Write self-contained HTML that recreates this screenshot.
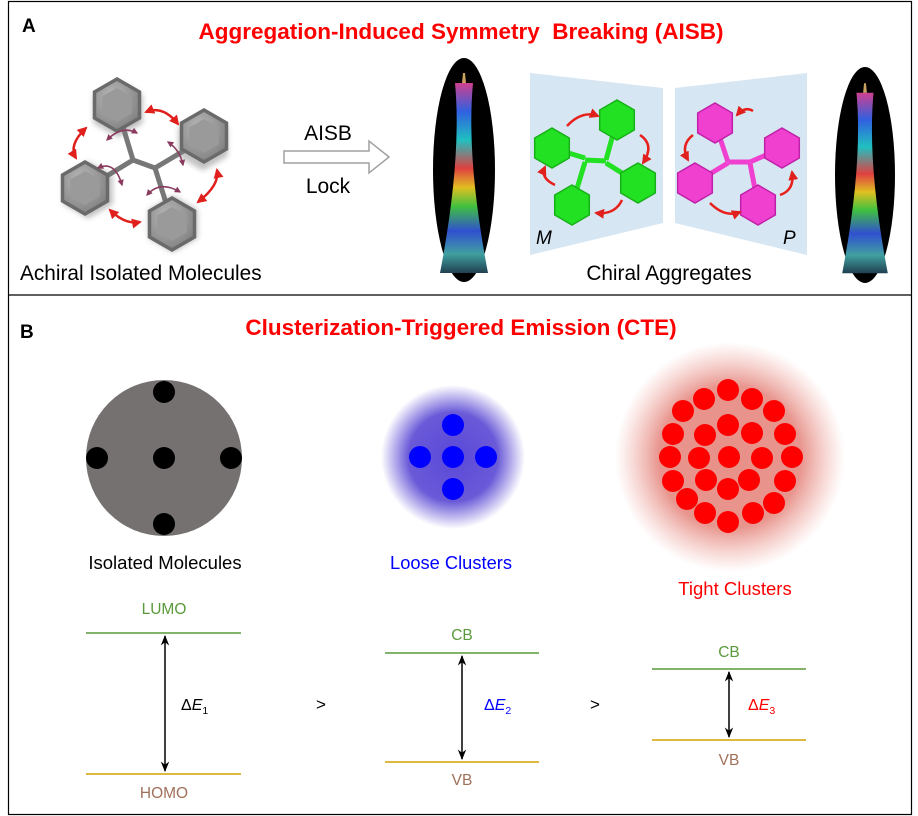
<!DOCTYPE html>
<html><head><meta charset="utf-8"><style>
html,body{margin:0;padding:0;background:#fff;}
svg{display:block;font-family:"Liberation Sans",Arial,sans-serif;}
</style></head><body>
<svg width="918" height="816" viewBox="0 0 918 816" xmlns="http://www.w3.org/2000/svg">
<defs>
<marker id="ar" viewBox="0 0 10 10" refX="8" refY="5" markerWidth="4" markerHeight="4" orient="auto-start-reverse"><path d="M0,0L10,5L0,10z" fill="#e0201c"/></marker>
<marker id="pr" viewBox="0 0 10 10" refX="8" refY="5" markerWidth="4" markerHeight="4" orient="auto-start-reverse"><path d="M0,0L10,5L0,10z" fill="#8a3a5e"/></marker>
<marker id="bk" viewBox="0 0 10 10" refX="9" refY="5" markerWidth="7" markerHeight="7" orient="auto-start-reverse"><path d="M0,1L10,5L0,9L3,5z" fill="#000"/></marker>
<radialGradient id="gh" cx="40%" cy="35%" r="70%"><stop offset="0" stop-color="#b8b8b8"/><stop offset="1" stop-color="#808080"/></radialGradient>
<radialGradient id="blue"><stop offset="0" stop-color="#5a48d8"/><stop offset="0.62" stop-color="#6a5ad8"/><stop offset="1" stop-color="#6a5ad8" stop-opacity="0"/></radialGradient>
<radialGradient id="red"><stop offset="0" stop-color="#e89088"/><stop offset="0.62" stop-color="#e8958e"/><stop offset="1" stop-color="#f0b0a8" stop-opacity="0"/></radialGradient>
<linearGradient id="rb" x1="0" y1="0" x2="0" y2="1">
<stop offset="0" stop-color="#d04090"/><stop offset="0.15" stop-color="#3060e0"/><stop offset="0.3" stop-color="#20c0c0"/><stop offset="0.45" stop-color="#e04040"/><stop offset="0.55" stop-color="#e0c020"/><stop offset="0.65" stop-color="#40c040"/><stop offset="0.78" stop-color="#3050d0"/><stop offset="0.9" stop-color="#40a0a0"/><stop offset="1" stop-color="#204050"/></linearGradient>
<g id="hex"><polygon points="0,-26 22.5,-13 22.5,13 0,26 -22.5,13 -22.5,-13" fill="url(#gh)" stroke="#6a6a6a" stroke-width="3.5"/><polygon points="0,-17 14.7,-8.5 14.7,8.5 0,17 -14.7,8.5 -14.7,-8.5" fill="#9a9a9a"/></g>
<g id="ghx"><polygon points="0,-20 17.3,-10 17.3,10 0,20 -17.3,10 -17.3,-10" fill="#22e022" stroke="#18b018" stroke-width="1.5"/></g>
<g id="phx"><polygon points="0,-20 17.3,-10 17.3,10 0,20 -17.3,10 -17.3,-10" fill="#f040d0" stroke="#c020a8" stroke-width="1.5"/></g>
<g id="tower"><path d="M-9,-95 L9,-95 Q2,-20 24,95 L-24,95 Q-2,-20 -9,-95z" fill="url(#rb)"/><path d="M-1,-105 L1,-105 L2,-95 L-2,-95z" fill="#c9a060"/></g>
<filter id="bl" x="-50%" y="-50%" width="200%" height="200%"><feGaussianBlur stdDeviation="3"/></filter>
</defs>

<rect x="8.5" y="1.5" width="903" height="813" fill="none" stroke="#000" stroke-width="1.2"/>
<line x1="8" y1="295" x2="912" y2="295" stroke="#000" stroke-width="1.2"/>

<text x="22" y="32" font-size="19" font-weight="bold">A</text>
<text x="461" y="39" font-size="22.5" font-weight="bold" fill="#f00" text-anchor="middle" xml:space="preserve">Aggregation-Induced Symmetry  Breaking (AISB)</text>

<!-- gray molecule -->
<g stroke="#777" stroke-width="5" stroke-linecap="round"><line x1="117" y1="107" x2="133" y2="160"/><line x1="202" y1="140" x2="155" y2="168"/><line x1="87" y1="188" x2="133" y2="160"/><line x1="172" y1="222" x2="155" y2="168"/><line x1="133" y1="160" x2="155" y2="168"/></g>
<g filter="url(#bl)" opacity="0.5"><use href="#hex" x="118" y="109"/><use href="#hex" x="203" y="142"/><use href="#hex" x="88" y="190"/><use href="#hex" x="173" y="224"/></g>
<use href="#hex" x="117" y="105"/><use href="#hex" x="204" y="136"/><use href="#hex" x="85" y="188"/><use href="#hex" x="172" y="224"/>
<g fill="none" stroke="#e0201c" stroke-width="2.5" marker-start="url(#ar)" marker-end="url(#ar)">
<path d="M146,112 Q163,105 178,124"/><path d="M86,128 Q68,145 76,158"/><path d="M217,170 Q220,185 198,202"/><path d="M110,210 Q125,225 140,222"/></g>
<g fill="none" stroke="#8a3a5e" stroke-width="1.6" marker-start="url(#pr)" marker-end="url(#pr)">
<path d="M107,140 Q122,125 137,133"/><path d="M168,142 Q180,150 183,165"/><path d="M98,168 Q115,160 122,185"/><path d="M147,195 Q160,180 180,192"/></g>

<!-- hollow arrow -->
<path d="M284,151 L369,151 L369,141 L389,157 L369,173 L369,163 L284,163z" fill="#fff" stroke="#a0a0a0" stroke-width="1.5"/>
<text x="328" y="140" font-size="21" text-anchor="middle">AISB</text>
<text x="328" y="193" font-size="21" text-anchor="middle">Lock</text>
<text x="20" y="280" font-size="20.8">Achiral Isolated Molecules</text>

<!-- towers -->
<ellipse cx="464" cy="170" rx="31" ry="112" fill="#000"/>
<use href="#tower" transform="translate(464,178)"/>
<ellipse cx="865" cy="175" rx="30" ry="108" fill="#000"/>
<use href="#tower" transform="translate(865,183) scale(0.95)"/>

<!-- panels -->
<polygon points="530,73 663,88 663,223 530,255" fill="#d6e6f3"/>
<polygon points="675,88 807,73 807,255 675,223" fill="#d6e6f3"/>
<g stroke="#22e022" stroke-width="5"><line x1="552" y1="148" x2="585" y2="158"/><line x1="617" y1="120" x2="606" y2="160"/><line x1="638" y1="183" x2="606" y2="163"/><line x1="572" y1="205" x2="585" y2="162"/><line x1="585" y1="160" x2="606" y2="161"/></g>
<use href="#ghx" x="552" y="148"/><use href="#ghx" x="617" y="120"/><use href="#ghx" x="638" y="183"/><use href="#ghx" x="572" y="205"/>
<g stroke="#f040d0" stroke-width="5"><line x1="715" y1="123" x2="728" y2="162"/><line x1="782" y1="148" x2="750" y2="162"/><line x1="695" y1="183" x2="728" y2="163"/><line x1="758" y1="205" x2="750" y2="163"/><line x1="728" y1="162" x2="750" y2="162"/></g>
<use href="#phx" x="715" y="123"/><use href="#phx" x="782" y="148"/><use href="#phx" x="695" y="183"/><use href="#phx" x="758" y="205"/>
<g fill="none" stroke="#e8201c" stroke-width="2.5" marker-end="url(#ar)">
<path d="M567,126 Q582,110 598,116"/><path d="M640,135 Q655,145 643,163"/><path d="M622,200 Q615,215 596,213"/><path d="M555,185 Q540,178 545,167"/>
<path d="M753,111 Q745,106 737,115"/><path d="M693,135 Q680,145 688,160"/><path d="M710,203 Q725,218 740,212"/><path d="M780,195 Q795,190 792,172"/></g>
<text x="536" y="244" font-size="19" font-style="italic">M</text>
<text x="783" y="244" font-size="19" font-style="italic">P</text>
<text x="669" y="280" font-size="20.8" text-anchor="middle">Chiral Aggregates</text>

<!-- Panel B -->
<text x="20" y="338" font-size="19" font-weight="bold">B</text>
<text x="461" y="335" font-size="22.5" font-weight="bold" fill="#f00" text-anchor="middle">Clusterization-Triggered Emission (CTE)</text>

<circle cx="164" cy="458" r="78" fill="#757171"/>
<g fill="#000"><circle cx="164" cy="392" r="11"/><circle cx="97" cy="458" r="11"/><circle cx="164" cy="458" r="11"/><circle cx="231" cy="458" r="11"/><circle cx="164" cy="524" r="11"/></g>
<text x="165" y="569" font-size="18.5" text-anchor="middle">Isolated Molecules</text>

<circle cx="453" cy="457" r="72" fill="url(#blue)"/>
<g fill="#0000ff"><circle cx="453" cy="425" r="11"/><circle cx="420" cy="457" r="11"/><circle cx="453" cy="457" r="11"/><circle cx="486" cy="457" r="11"/><circle cx="453" cy="489" r="11"/></g>
<text x="451" y="569" font-size="18.3" fill="#0000ff" text-anchor="middle">Loose Clusters</text>

<circle cx="730" cy="457" r="115" fill="url(#red)"/>
<g fill="#ff0000">
<circle cx="729" cy="457" r="11"/>
<circle cx="728" cy="425" r="11"/><circle cx="705" cy="435" r="11"/><circle cx="752" cy="433" r="11"/><circle cx="699" cy="458" r="11"/><circle cx="762" cy="458" r="11"/><circle cx="706" cy="480" r="11"/><circle cx="749" cy="480" r="11"/><circle cx="728" cy="489" r="11"/>
<circle cx="728" cy="390" r="11"/><circle cx="704" cy="399" r="11"/><circle cx="752" cy="399" r="11"/><circle cx="683" cy="411" r="11"/><circle cx="774" cy="411" r="11"/><circle cx="673" cy="434" r="11"/><circle cx="785" cy="434" r="11"/><circle cx="670" cy="457" r="11"/><circle cx="792" cy="457" r="11"/><circle cx="673" cy="481" r="11"/><circle cx="785" cy="481" r="11"/><circle cx="687" cy="499" r="11"/><circle cx="774" cy="503" r="11"/><circle cx="705" cy="513" r="11"/><circle cx="753" cy="513" r="11"/><circle cx="728" cy="522" r="11"/>
</g>
<text x="735" y="595" font-size="18.5" fill="#ff0000" text-anchor="middle">Tight Clusters</text>

<!-- energy levels -->
<g font-size="15.5" text-anchor="middle">
<text x="164" y="614" fill="#5a9a3a">LUMO</text>
<line x1="86" y1="633" x2="241" y2="633" stroke="#5a9a3a" stroke-width="1.5"/>
<line x1="86" y1="774" x2="241" y2="774" stroke="#d4a000" stroke-width="1.5"/>
<text x="164" y="798" fill="#a0705a">HOMO</text>
<line x1="165" y1="636" x2="165" y2="771" stroke="#000" stroke-width="1.5" marker-start="url(#bk)" marker-end="url(#bk)"/>
<text x="462" y="640" fill="#5a9a3a">CB</text>
<line x1="385" y1="653" x2="539" y2="653" stroke="#5a9a3a" stroke-width="1.5"/>
<line x1="385" y1="762" x2="539" y2="762" stroke="#d4a000" stroke-width="1.5"/>
<text x="462" y="785" fill="#a0705a">VB</text>
<line x1="462" y1="656" x2="462" y2="759" stroke="#000" stroke-width="1.5" marker-start="url(#bk)" marker-end="url(#bk)"/>
<text x="729" y="657" fill="#5a9a3a">CB</text>
<line x1="652" y1="669" x2="806" y2="669" stroke="#5a9a3a" stroke-width="1.5"/>
<line x1="652" y1="740" x2="806" y2="740" stroke="#d4a000" stroke-width="1.5"/>
<text x="729" y="765" fill="#a0705a">VB</text>
<line x1="729" y1="672" x2="729" y2="737" stroke="#000" stroke-width="1.5" marker-start="url(#bk)" marker-end="url(#bk)"/>
</g>
<text x="181" y="710" font-size="16">Δ<tspan font-style="italic">E</tspan><tspan font-size="10.5" dy="4">1</tspan></text>
<text x="484" y="710" font-size="16" fill="#0000ff">Δ<tspan font-style="italic">E</tspan><tspan font-size="10.5" dy="4">2</tspan></text>
<text x="748" y="710" font-size="16" fill="#ff0000">Δ<tspan font-style="italic">E</tspan><tspan font-size="10.5" dy="4">3</tspan></text>
<text x="316" y="710" font-size="17">&gt;</text>
<text x="590" y="710" font-size="17">&gt;</text>
</svg>
</body></html>
